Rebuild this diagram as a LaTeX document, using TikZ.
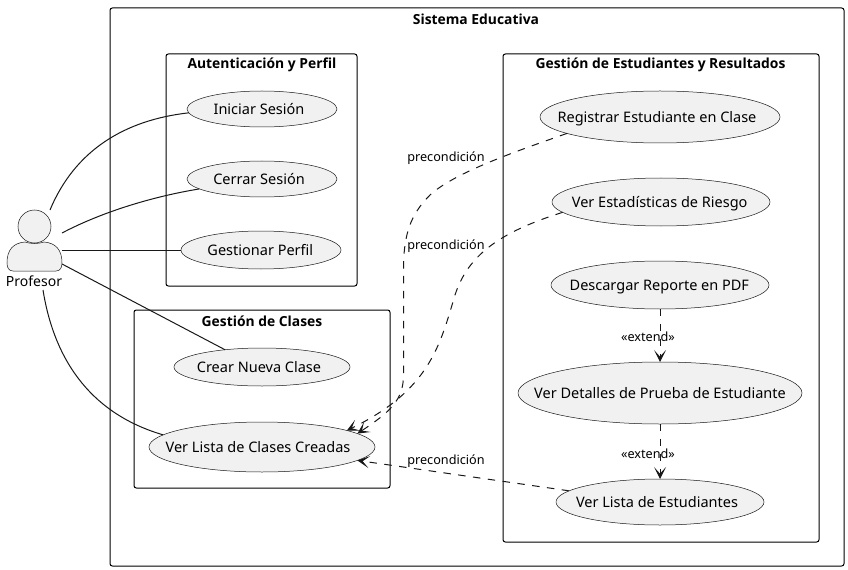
\documentclass[tikz,border=0pt]{standalone}
\usepackage{fontspec}
\setmainfont{Noto Sans}
\newfontfamily\titlefont{Open Sans}
\usetikzlibrary{shapes.geometric,arrows.meta}
\definecolor{ucfill}{HTML}{F1F1F1}
\definecolor{ucline}{HTML}{181818}
\newcommand{\uct}[2][0]{\makebox[0pt]{\hspace*{#1pt}#2}}
\tikzset{
 uc/.style={ellipse,draw=ucline,line width=0.375pt,fill=ucfill,inner sep=0pt,outer sep=0pt,text=black,text height=9.8pt,text depth=1pt,font=\fontsize{10.875}{12}\selectfont},
 pkg/.style={draw=black,line width=0.75pt,rounded corners=1.8pt},
 pkgtitle/.style={font=\titlefont\bfseries\fontsize{10.4}{12}\selectfont,inner sep=0pt},
 lbl/.style={font=\fontsize{9.5}{12}\selectfont,inner sep=0pt,text=black},
 assoc/.style={draw=ucline,line width=0.75pt},
 dep/.style={draw=ucline,line width=0.75pt,dash pattern=on 5.6pt off 5.6pt,-{Stealth[length=9pt,width=9pt,inset=5pt]}},
}
\begin{document}
\begin{tikzpicture}[x=0.75pt,y=-0.75pt]
\useasboundingbox (0,0) rectangle (848,570);
\node[pkg,minimum width=550.5pt,minimum height=418.5pt,inner sep=0pt] (sys) at (477,287) {};
\node[pkgtitle] (sysT) at (476,19) {Sistema Educativa};
\node[pkg,minimum width=143.25pt,minimum height=174pt,inner sep=0pt] (auth) at (261.5,170) {};
\node[pkgtitle] (authT) at (262,65) {Autenticación y Perfil};
\node[pkg,minimum width=192pt,minimum height=133.5pt,inner sep=0pt] (cls) at (262,399) {};
\node[pkgtitle] (clsT) at (262,321) {Gestión de Clases};
\node[pkg,minimum width=237pt,minimum height=366pt,inner sep=0pt] (est) at (661,298) {};
\node[pkgtitle] (estT) at (660.5,65) {Gestión de Estudiantes y Resultados};

\node[uc,minimum width=112.5pt,minimum height=27pt] (ini) at (262,109) {\uct[-4.5]{Iniciar Sesión}};
\node[uc,minimum width=112.5pt,minimum height=27pt] (cer) at (262,179) {\uct[-4.5]{Cerrar Sesión}};
\node[uc,minimum width=120pt,minimum height=28.5pt] (per) at (261,250) {\uct[-1]{Gestionar Perfil}};
\node[uc,minimum width=132pt,minimum height=28.5pt] (cre) at (262,367) {\uct[-4.5]{Crear Nueva Clase}};
\node[uc,minimum width=169.5pt,minimum height=37.5pt] (lis) at (262,447) {\uct[-6]{Ver Lista de Clases Creadas}};
\node[uc,minimum width=180pt,minimum height=39pt] (reg) at (660,117) {\uct[-4.5]{Registrar Estudiante en Clase}};
\node[uc,minimum width=163.5pt,minimum height=36pt] (sta) at (661,202) {\uct[-2]{Ver Estadísticas de Riesgo}};
\node[uc,minimum width=163.5pt,minimum height=36pt] (pdf) at (660,285) {\uct[-1]{Descargar Reporte en PDF}};
\node[uc,minimum width=213pt,minimum height=46.5pt] (det) at (660,393) {\uct{Ver Detalles de Prueba de Estudiante}};
\node[uc,minimum width=156pt,minimum height=34.5pt] (lie) at (660,502) {\uct[-4.5]{Ver Lista de Estudiantes}};

% actor
\node[circle,draw=ucline,line width=0.375pt,fill=ucfill,minimum size=24.75pt,inner sep=0pt] (head) at (34.5,226.5) {};
\draw[draw=ucline,line width=0.375pt,fill=ucfill] (7,263) .. controls (7,250) and (13,243) .. (25,242) .. controls (30,244) and (39,244) .. (44,242) .. controls (56,243) and (62,250) .. (62,263) .. controls (62,268) and (60,271) .. (56,271) -- (13,271) .. controls (9,271) and (7,268) .. (7,263) -- cycle;
\node[font=\fontsize{10.5}{12}\selectfont,inner sep=0pt] (prof) at (34,281) {Profesor};
\coordinate (a1) at (50,210);
\coordinate (a2) at (62,233);
\coordinate (a3) at (62,250);
\coordinate (a4) at (62,264);
\coordinate (a5) at (43,290);

\draw[assoc] (a1) .. controls (75,150) and (125,120) .. (ini.183);
\draw[assoc] (a2) .. controls (100,213) and (150,197) .. (cer.189);
\draw[assoc] (a3) -- (per.west);
\draw[assoc] (a4) -- (cre.155);
\draw[assoc] (a5) .. controls (55,365) and (95,415) .. (lis.173);

\draw[dep] (reg.190) .. controls (520,150) and (455,172) .. (430,195) .. controls (410,215) and (403.5,235) .. (403.5,270) -- (403.5,375) .. controls (403.5,400) and (390,412) .. (lis.8);
\draw[dep] (sta.186) .. controls (500,232) and (468,255) .. (455,295) .. controls (440,345) and (430,390) .. (lis.11);
\draw[dep] (lie.173) -- (lis.-8);
\draw[dep] (pdf) -- (det);
\draw[dep] (det) -- (lie);

\node[lbl] (l1) at (446,158) {precondición};
\node[lbl] (l2) at (446,246) {precondición};
\node[lbl] (l3) at (446,461) {precondición};
\node[lbl] (l4) at (648,337) {«extend»};
\node[lbl] (l5) at (648,454) {«extend»};
\end{tikzpicture}
\end{document}
